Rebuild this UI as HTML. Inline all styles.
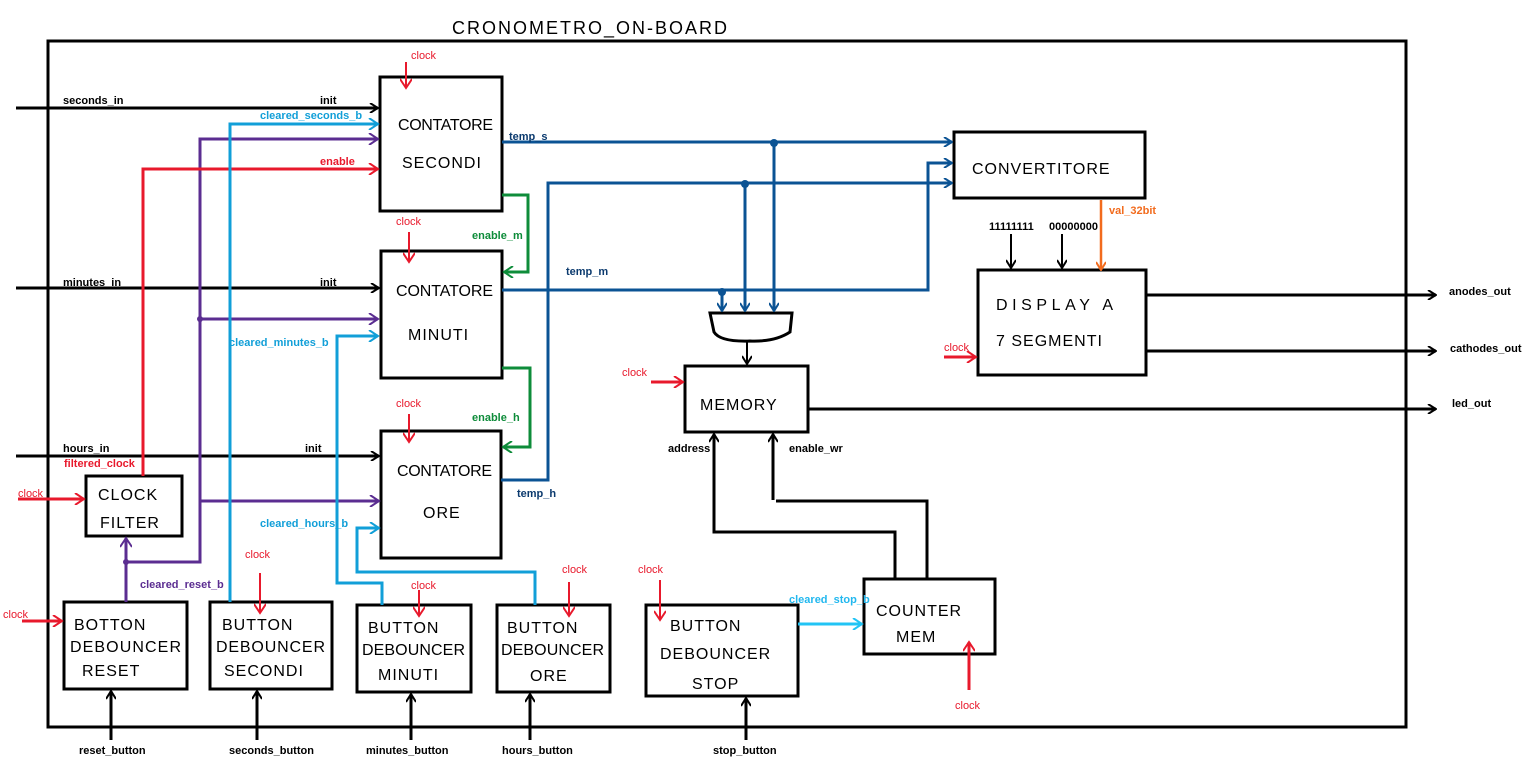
<!DOCTYPE html>
<html><head><meta charset="utf-8"><style>
html,body{margin:0;padding:0;background:#fff;}
svg{display:block;}
.lb{font-family:"Liberation Sans",sans-serif;font-size:11px;font-weight:bold;}
.ck{font-family:"Liberation Sans",sans-serif;font-size:11px;fill:#e8192c;}
.bx{font-family:"Liberation Sans",sans-serif;font-size:16px;fill:#000;letter-spacing:1px;}
</style></head><body>
<svg width="1535" height="761" viewBox="0 0 1535 761" xmlns="http://www.w3.org/2000/svg">
<defs>
<marker id="ak" markerWidth="10" markerHeight="10" refX="9" refY="5" orient="auto" markerUnits="userSpaceOnUse"><path d="M1,0 L9,5 L1,10" fill="none" stroke="#000" stroke-width="2"/></marker>
<marker id="ar" markerWidth="12" markerHeight="12" refX="10" refY="6" orient="auto" markerUnits="userSpaceOnUse"><path d="M1,0 L10,6 L1,12" fill="none" stroke="#e8192c" stroke-width="2"/></marker>
<marker id="ap" markerWidth="12" markerHeight="12" refX="10" refY="6" orient="auto" markerUnits="userSpaceOnUse"><path d="M1,0 L10,6 L1,12" fill="none" stroke="#5b2d91" stroke-width="2"/></marker>
<marker id="ac" markerWidth="12" markerHeight="12" refX="10" refY="6" orient="auto" markerUnits="userSpaceOnUse"><path d="M1,0 L10,6 L1,12" fill="none" stroke="#119fd8" stroke-width="2"/></marker>
<marker id="ac2" markerWidth="12" markerHeight="12" refX="10" refY="6" orient="auto" markerUnits="userSpaceOnUse"><path d="M1,0 L10,6 L1,12" fill="none" stroke="#22c4f5" stroke-width="2"/></marker>
<marker id="ag" markerWidth="12" markerHeight="12" refX="10" refY="6" orient="auto" markerUnits="userSpaceOnUse"><path d="M1,0 L10,6 L1,12" fill="none" stroke="#0e8c3a" stroke-width="2"/></marker>
<marker id="ab" markerWidth="10" markerHeight="10" refX="9" refY="5" orient="auto" markerUnits="userSpaceOnUse"><path d="M1,0 L9,5 L1,10" fill="none" stroke="#0b5394" stroke-width="2"/></marker>
<marker id="ao" markerWidth="10" markerHeight="10" refX="9" refY="5" orient="auto" markerUnits="userSpaceOnUse"><path d="M1,0 L9,5 L1,10" fill="none" stroke="#f26b1d" stroke-width="2"/></marker>
</defs>

<text x="452" y="34" font-family="Liberation Sans,sans-serif" font-size="18" letter-spacing="2">CRONOMETRO_ON-BOARD</text>
<rect x="48" y="41" width="1358" height="686" fill="none" stroke="#000" stroke-width="3"/>

<g fill="none" stroke="#000" stroke-width="3">
<rect x="380" y="77" width="122" height="134"/>
<rect x="381" y="251" width="121" height="127"/>
<rect x="381" y="431" width="120" height="127"/>
<rect x="954" y="132" width="191" height="66"/>
<rect x="978" y="270" width="168" height="105"/>
<rect x="685" y="366" width="123" height="66"/>
<rect x="86" y="476" width="96" height="60"/>
<rect x="64" y="602" width="123" height="87"/>
<rect x="210" y="602" width="122" height="87"/>
<rect x="357" y="605" width="114" height="87"/>
<rect x="497" y="605" width="113" height="87"/>
<rect x="646" y="605" width="152" height="91"/>
<rect x="864" y="579" width="131" height="75"/>
<path d="M710,313 L792,313 L790,332 Q775,342 750,341 Q720,342 714,332 Z"/>
</g>

<text class="bx" x="398" y="130" textLength="96">CONTATORE</text>
<text class="bx" x="402" y="168">SECONDI</text>
<text class="bx" x="396" y="296" textLength="98">CONTATORE</text>
<text class="bx" x="408" y="340">MINUTI</text>
<text class="bx" x="397" y="476" textLength="96">CONTATORE</text>
<text class="bx" x="423" y="518">ORE</text>
<text class="bx" x="972" y="174">CONVERTITORE</text>
<text class="bx" x="996" y="310" textLength="118">DISPLAY  A</text>
<text class="bx" x="996" y="346">7 SEGMENTI</text>
<text class="bx" x="700" y="410" font-size="20">MEMORY</text>
<text class="bx" x="98" y="500">CLOCK</text>
<text class="bx" x="100" y="528">FILTER</text>
<text class="bx" x="74" y="630">BOTTON</text>
<text class="bx" x="70" y="652" textLength="112">DEBOUNCER</text>
<text class="bx" x="82" y="676">RESET</text>
<text class="bx" x="222" y="630">BUTTON</text>
<text class="bx" x="216" y="652" textLength="110">DEBOUNCER</text>
<text class="bx" x="224" y="676">SECONDI</text>
<text class="bx" x="368" y="633">BUTTON</text>
<text class="bx" x="362" y="655" textLength="104">DEBOUNCER</text>
<text class="bx" x="378" y="680">MINUTI</text>
<text class="bx" x="507" y="633">BUTTON</text>
<text class="bx" x="501" y="655" textLength="104">DEBOUNCER</text>
<text class="bx" x="530" y="681">ORE</text>
<text class="bx" x="670" y="631">BUTTON</text>
<text class="bx" x="660" y="659">DEBOUNCER</text>
<text class="bx" x="692" y="689">STOP</text>
<text class="bx" x="876" y="616">COUNTER</text>
<text class="bx" x="896" y="642">MEM</text>

<g stroke="#000" stroke-width="3" fill="none">
<path d="M16,108 H378" marker-end="url(#ak)"/>
<path d="M16,288 H379" marker-end="url(#ak)"/>
<path d="M16,456 H379" marker-end="url(#ak)"/>
<path d="M111,740 V691" marker-end="url(#ak)"/>
<path d="M257,740 V691" marker-end="url(#ak)"/>
<path d="M411,740 V694" marker-end="url(#ak)"/>
<path d="M530,740 V694" marker-end="url(#ak)"/>
<path d="M746,740 V698" marker-end="url(#ak)"/>
<path d="M1146,295 H1436" marker-end="url(#ak)"/>
<path d="M1146,351 H1436" marker-end="url(#ak)"/>
<path d="M808,409 H1436" marker-end="url(#ak)"/>
<path d="M895,579 V532 H714 V434" marker-end="url(#ak)"/>
<path d="M927,579 V501 H776 M773,500 V434" marker-end="url(#ak)"/>
<path d="M747,341 V364" stroke-width="2" marker-end="url(#ak)"/>
<path d="M1011,234 V268" stroke-width="2" marker-end="url(#ak)"/>
<path d="M1062,234 V268" stroke-width="2" marker-end="url(#ak)"/>
</g>
<path d="M1101,200 V270" stroke="#f26b1d" stroke-width="2.5" fill="none" marker-end="url(#ao)"/>

<g stroke="#0b5394" stroke-width="3" fill="none">
<path d="M502,142 H952" marker-end="url(#ab)"/>
<path d="M502,290 H928 V163 H952" marker-end="url(#ab)"/>
<path d="M501,480 H548 V183 H952" marker-end="url(#ab)"/>
<path d="M774,143 V311" marker-end="url(#ab)"/>
<path d="M745,184 V311" marker-end="url(#ab)"/>
<path d="M722,292 V311" marker-end="url(#ab)"/>
</g>
<g fill="#0b5394"><circle cx="774" cy="143" r="4"/><circle cx="745" cy="184" r="4"/><circle cx="722" cy="292" r="4"/></g>

<g stroke="#5b2d91" stroke-width="3" fill="none">
<path d="M126,602 V538" marker-end="url(#ap)"/>
<path d="M126,562 H200 V139 H378" marker-end="url(#ap)"/>
<path d="M200,319 H378" marker-end="url(#ap)"/>
<path d="M200,501 H379" marker-end="url(#ap)"/>
</g>
<circle cx="200" cy="319" r="3" fill="#5b2d91"/><circle cx="126" cy="562" r="3" fill="#5b2d91"/>

<g stroke="#e8192c" stroke-width="3" fill="none">
<path d="M143,476 V169 H378" marker-end="url(#ar)"/>
<path d="M18,499 H84" marker-end="url(#ar)"/>
<path d="M22,621 H62" marker-end="url(#ar)"/>
<path d="M651,382 H683" marker-end="url(#ar)"/>
<path d="M944,357 H976" marker-end="url(#ar)"/>
</g>
<g stroke="#e8192c" stroke-width="2" fill="none">
<path d="M406,62 V88" marker-end="url(#ar)"/>
<path d="M409,232 V262" marker-end="url(#ar)"/>
<path d="M409,414 V442" marker-end="url(#ar)"/>
<path d="M260,573 V613" marker-end="url(#ar)"/>
<path d="M419,590 V616" marker-end="url(#ar)"/>
<path d="M569,582 V616" marker-end="url(#ar)"/>
<path d="M660,580 V620" marker-end="url(#ar)"/>
</g>
<path d="M969,690 V642" stroke="#e8192c" stroke-width="3" fill="none" marker-end="url(#ar)"/>

<g stroke="#119fd8" stroke-width="3" fill="none">
<path d="M230,602 V124 H378" marker-end="url(#ac)"/>
<path d="M382,605 V583 H337 V336 H378" marker-end="url(#ac)"/>
<path d="M535,605 V572 H357 V528 H379" marker-end="url(#ac)"/>
</g>
<path d="M798,624 H862" stroke="#22c4f5" stroke-width="3" fill="none" marker-end="url(#ac2)"/>

<g stroke="#0e8c3a" stroke-width="3" fill="none">
<path d="M502,195 H528 V272 H504" marker-end="url(#ag)"/>
<path d="M502,368 H530 V447 H503" marker-end="url(#ag)"/>
</g>

<g class="lb" fill="#000">
<text x="63" y="104">seconds_in</text>
<text x="320" y="104">init</text>
<text x="63" y="286">minutes_in</text>
<text x="320" y="286">init</text>
<text x="63" y="452">hours_in</text>
<text x="305" y="452">init</text>
<text x="79" y="754">reset_button</text>
<text x="229" y="754">seconds_button</text>
<text x="366" y="754">minutes_button</text>
<text x="502" y="754">hours_button</text>
<text x="713" y="754">stop_button</text>
<text x="1449" y="295">anodes_out</text>
<text x="1450" y="352">cathodes_out</text>
<text x="1452" y="407">led_out</text>
<text x="668" y="452">address</text>
<text x="789" y="452">enable_wr</text>
<text x="989" y="230">11111111</text>
<text x="1049" y="230">00000000</text>
</g>
<g class="lb" fill="#0b3a6e">
<text x="509" y="140">temp_s</text>
<text x="566" y="275">temp_m</text>
<text x="517" y="497">temp_h</text>
</g>
<text class="lb" x="1109" y="214" fill="#f26b1d">val_32bit</text>
<g class="lb" fill="#119fd8">
<text x="260" y="119">cleared_seconds_b</text>
<text x="229" y="346">cleared_minutes_b</text>
<text x="260" y="527">cleared_hours_b</text>
</g>
<text class="lb" x="789" y="603" fill="#22b8ef">cleared_stop_b</text>
<text class="lb" x="140" y="588" fill="#5b2d91">cleared_reset_b</text>
<g class="lb" fill="#0e8c3a"><text x="472" y="239">enable_m</text><text x="472" y="421">enable_h</text></g>
<g class="lb" fill="#e8192c"><text x="320" y="165">enable</text><text x="64" y="467">filtered_clock</text></g>

<g class="ck">
<text x="18" y="497">clock</text>
<text x="3" y="618">clock</text>
<text x="411" y="59">clock</text>
<text x="396" y="225">clock</text>
<text x="396" y="407">clock</text>
<text x="245" y="558">clock</text>
<text x="411" y="589">clock</text>
<text x="562" y="573">clock</text>
<text x="638" y="573">clock</text>
<text x="622" y="376">clock</text>
<text x="944" y="351">clock</text>
<text x="955" y="709">clock</text>
</g>
</svg>
</body></html>
